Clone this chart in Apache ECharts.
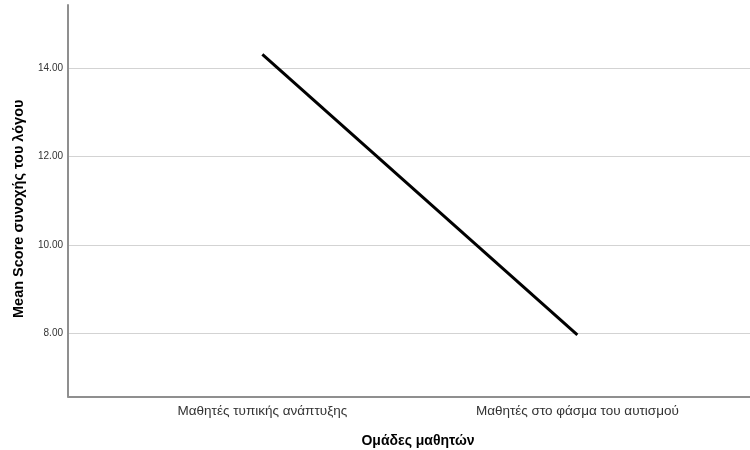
<!DOCTYPE html>
<html>
<head>
<meta charset="utf-8">
<script src="https://cdn.jsdelivr.net/npm/echarts@6/dist/echarts.min.js"></script>
<style>
html,body{margin:0;padding:0;background:#fff;}
#chart{width:750px;height:450px;}
</style>
</head>
<body>
<div id="chart"></div>
<script>
const categories = ["Μαθητές τυπικής ανάπτυξης", "Μαθητές στο φάσμα του αυτισμού"];
const meanScores = [14.32, 7.96];
const yTicks = [8, 10, 12, 14];
const xTitle = "Ομάδες μαθητών";
const yTitle = "Mean Score συνοχής του λόγου";

const font = "'Liberation Sans', Arial, sans-serif";
const chart = echarts.init(document.getElementById('chart'), null, {renderer: 'canvas'});
const catIdx = categories.map((c, i) => i);
chart.setOption({
  backgroundColor: '#ffffff',
  animation: false,
  grid: {left: 68, right: 0, top: 5, bottom: 53.5, containLabel: false, outerBoundsMode: 'none'},
  xAxis: {
    type: 'value',
    min: -0.617,
    max: 1.548,
    name: xTitle,
    nameLocation: 'middle',
    nameGap: 38,
    nameTextStyle: {fontFamily: font, fontSize: 14, fontWeight: 'bold', color: '#000', padding: [0, 0, 0, 18]},
    axisLine: {show: true, onZero: false, lineStyle: {color: '#8f8f8f', width: 2}},
    axisTick: {show: false, customValues: catIdx},
    splitLine: {show: false},
    axisLabel: {
      customValues: catIdx,
      formatter: v => categories[Math.round(v)],
      fontFamily: font, fontSize: 13.5, color: '#333', margin: 8
    }
  },
  yAxis: {
    type: 'value',
    min: 6.56,
    max: 15.44,
    name: yTitle,
    nameLocation: 'middle',
    nameGap: 42,
    nameTextStyle: {fontFamily: font, fontSize: 14.5, fontWeight: 'bold', color: '#000', padding: [0, 16, 0, 0]},
    axisLine: {show: true, onZero: false, lineStyle: {color: '#8f8f8f', width: 2}},
    axisTick: {show: false, customValues: yTicks},
    axisLabel: {
      customValues: yTicks,
      formatter: v => v.toFixed(2),
      fontFamily: font, fontSize: 10, color: '#333', margin: 5
    },
    splitLine: {show: true, lineStyle: {color: '#d3d3d3', width: 1}}
  },
  series: [{
    type: 'line',
    data: meanScores.map((v, i) => [catIdx[i], v]),
    symbol: 'none',
    lineStyle: {color: '#000', width: 3},
    z: 5
  }]
});
</script>
</body>
</html>
